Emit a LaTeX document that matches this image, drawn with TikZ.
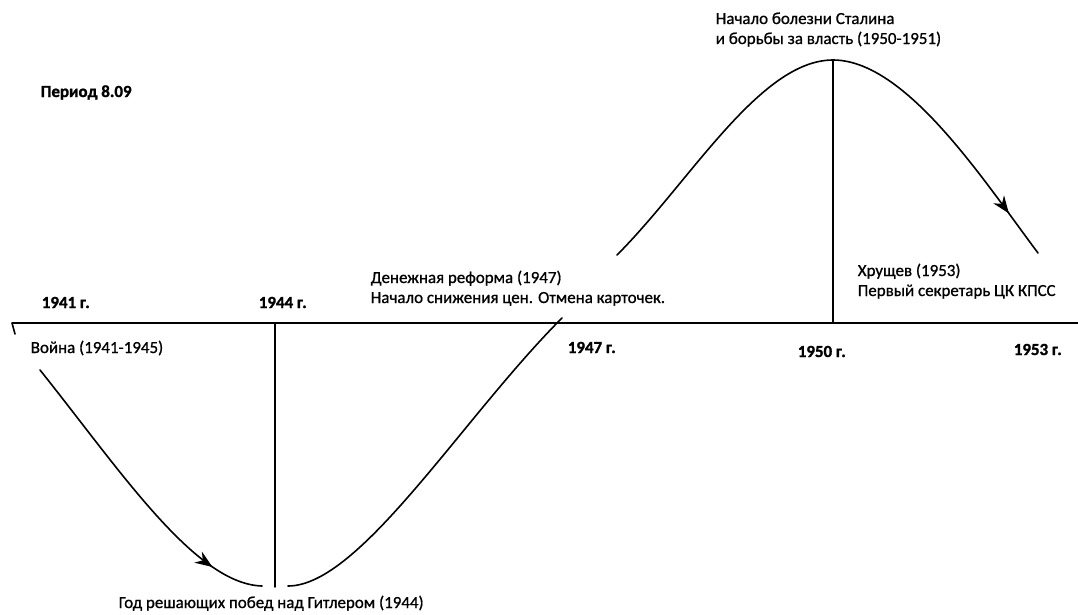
\documentclass[tikz,border=0pt]{standalone}
\usepackage{fontspec}
\setmainfont{Carlito}
\newfontfamily\evfont[FakeBold=0.9]{Carlito}
\newfontfamily\yrfont[UprightFont=* Bold,FakeBold=1.4]{Carlito}
\usetikzlibrary{arrows.meta,decorations.markings}

\tikzset{
  yearlbl/.style={anchor=base west,inner sep=0pt,font=\fontsize{12.7}{15}\selectfont\yrfont},
  evlbl/.style={anchor=base west,inner sep=0pt,align=left,font=\fontsize{12.7}{15}\selectfont\evfont},
  midarrow/.style={postaction={decorate},decoration={markings,
      mark=at position #1 with {\arrow{Stealth[length=13pt,width=10pt]}}}}
}

\begin{document}
\begin{tikzpicture}[x=0.75pt,y=-0.75pt,line width=1.2pt,line join=round,line cap=round]
  \useasboundingbox (0,0) rectangle (1078,614);

  \coordinate (hook) at (15,334);
  \coordinate (ax0) at (12,323);
  \coordinate (ax1) at (1078,323);
  \coordinate (t44) at (275,323);
  \coordinate (b44) at (275,587);
  \coordinate (t50) at (833,60);
  \coordinate (b50) at (833,323);
  \coordinate (l0) at (40,370);
  \coordinate (l1) at (262,586);
  \coordinate (l2) at (288,586);
  \coordinate (l3) at (562,318);
  \coordinate (u0) at (617,255);
  \coordinate (u2) at (1038,253);

  \draw (hook) -- (ax0) -- (ax1);
  \draw (t44) -- (b44);
  \draw (b50) -- (t50);
  \draw[midarrow=0.83] (l0) .. controls (120,470) and (195,584) .. (l1);
  \draw (l2) .. controls (360,586) and (462,418) .. (l3);
  \draw (u0) .. controls (690,182) and (760,60) .. (t50);
  \draw[midarrow=0.83] (t50) .. controls (906,60) and (984,181) .. (u2);

  \node[yearlbl] (period) at (40,97) {Период 8.09};
  \node[yearlbl] (y41) at (41,308) {1941 г.};
  \node[yearlbl] (y44) at (258,308) {1944 г.};
  \node[yearlbl] (y47) at (567,353) {1947 г.};
  \node[yearlbl] (y50) at (797,357) {1950 г.};
  \node[yearlbl] (y53) at (1013,355) {1953 г.};

  \node[evlbl] (war) at (30,353) {Война (1941-1945)};
  \node[evlbl] (reform) at (370,303) {Денежная реформа (1947)\\Начало снижения цен. Отмена карточек.};
  \node[evlbl] (khrush) at (857,296) {Хрущев (1953)\\Первый секретарь ЦК КПСС};
  \node[evlbl] (stalin) at (715,44) {Начало болезни Сталина\\и борьбы за власть (1950-1951)};
  \node[evlbl] (victory) at (118,608) {Год решающих побед над Гитлером (1944)};
\end{tikzpicture}
\end{document}
